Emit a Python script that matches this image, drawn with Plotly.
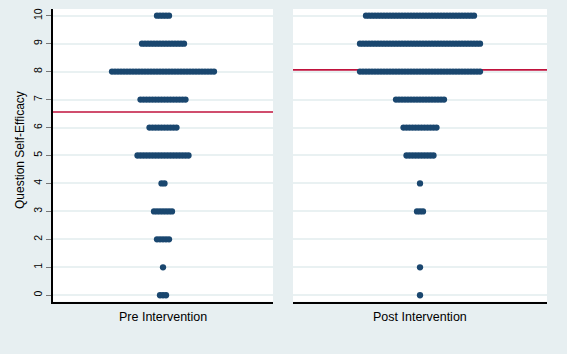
import numpy as np
import plotly.graph_objects as go

# ---- data ----
scores = [0, 1, 2, 3, 4, 5, 6, 7, 8, 9, 10]
pre_counts = [3, 1, 5, 7, 2, 18, 10, 16, 35, 15, 5]
post_counts = [1, 1, 0, 3, 1, 10, 12, 17, 41, 41, 37]
panel_labels = ["Pre Intervention", "Post Intervention"]
y_title = "Question Self-Efficacy"
y_ticks = [0, 1, 2, 3, 4, 5, 6, 7, 8, 9, 10]

# ---- layout constants ----
W, H = 567, 354
SPACING = 3.0          # horizontal distance between stacked dots (px units)
DOT = 6.3
NAVY = "#1a476f"
RED = "#c0123c"
BG = "#e7eff1"


def dot_positions(values, counts):
    xs, ys = [], []
    for v, n in zip(values, counts):
        if n <= 0:
            continue
        offs = (np.arange(n) - (n - 1) / 2.0) * SPACING
        xs.extend(offs.tolist())
        ys.extend([v] * n)
    return xs, ys


def weighted_mean(values, counts):
    v = np.array(values, dtype=float)
    c = np.array(counts, dtype=float)
    return float((v * c).sum() / c.sum())


fig = go.Figure()

px_l, py_l = dot_positions(scores, pre_counts)
px_r, py_r = dot_positions(scores, post_counts)

fig.add_trace(go.Scatter(x=px_l, y=py_l, mode="markers", xaxis="x", yaxis="y",
                         marker=dict(size=DOT, color=NAVY, line=dict(width=0)),
                         showlegend=False, hoverinfo="skip"))
fig.add_trace(go.Scatter(x=px_r, y=py_r, mode="markers", xaxis="x2", yaxis="y2",
                         marker=dict(size=DOT, color=NAVY, line=dict(width=0)),
                         showlegend=False, hoverinfo="skip"))

# panel geometry in pixels
L0, L1 = 53, 273
R0, R1 = 293, 547
TOP, BOT = 9, 301.7
ydom = [(H - BOT) / H, (H - TOP) / H]
yrange = [-0.23, 10.24]

grid = dict(showgrid=True, gridcolor="#e9f1f2", gridwidth=1.6, zeroline=False)

fig.update_layout(
    width=W, height=H,
    margin=dict(l=0, r=0, t=0, b=0),
    paper_bgcolor=BG, plot_bgcolor="white",
    font=dict(family="Liberation Sans, Arial, sans-serif", color="black"),
    xaxis=dict(domain=[L0 / W, L1 / W], range=[-(L1 - L0) / 2, (L1 - L0) / 2],
               showgrid=False, zeroline=False, showticklabels=False, ticks="",
               showline=True, linecolor="black", linewidth=1.5),
    xaxis2=dict(domain=[R0 / W, R1 / W], range=[-(R1 - R0) / 2, (R1 - R0) / 2],
                showgrid=False, zeroline=False, showticklabels=False, ticks="",
                showline=True, linecolor="black", linewidth=1.5, anchor="y2"),
    yaxis=dict(domain=ydom, range=yrange, tickvals=y_ticks,
               ticks="outside", ticklen=5, tickcolor="#777777", tickwidth=1,
               tickangle=-90, tickfont=dict(size=10.5),
               showline=True, linecolor="black", linewidth=1.5, **grid),
    yaxis2=dict(domain=ydom, range=yrange, tickvals=y_ticks, anchor="x2",
                showticklabels=False, ticks="", showline=False, **grid),
)

# mean lines
for xr, yr, counts in (("x domain", "y", pre_counts), ("x2 domain", "y2", post_counts)):
    m = weighted_mean(scores, counts)
    fig.add_shape(type="line", xref=xr, yref=yr, x0=0, x1=1, y0=m, y1=m,
                  line=dict(color=RED, width=1.7), layer="below")

# labels
fig.add_annotation(text=panel_labels[0], x=(L0 + L1) / 2 / W, y=(H - 316.7) / H,
                   xref="paper", yref="paper", showarrow=False,
                   font=dict(size=12.5), xanchor="center", yanchor="middle")
fig.add_annotation(text=panel_labels[1], x=(R0 + R1) / 2 / W, y=(H - 316.7) / H,
                   xref="paper", yref="paper", showarrow=False,
                   font=dict(size=12.5), xanchor="center", yanchor="middle")
fig.add_annotation(text=y_title, x=20 / W, y=(H - 150) / H,
                   xref="paper", yref="paper", showarrow=False, textangle=-90,
                   font=dict(size=12), xanchor="center", yanchor="middle")

fig.write_html("out.html", config={"displayModeBar": False},
               post_script="document.body.style.margin='0';document.body.style.padding='0';")
